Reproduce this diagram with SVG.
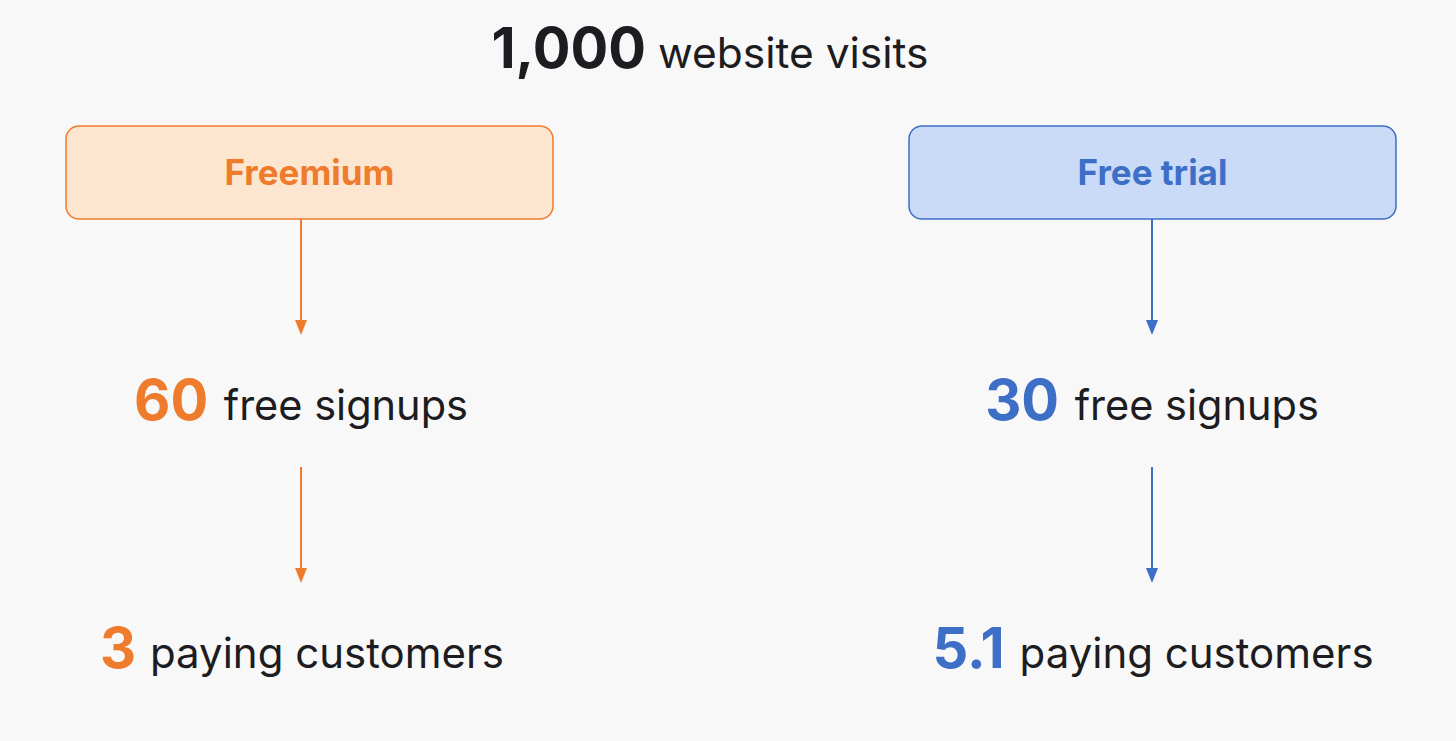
<svg xmlns="http://www.w3.org/2000/svg" width="1456" height="741" viewBox="0 0 1456 741">
<defs>
<style>
.t{font-family:Inter,"Noto Sans",sans-serif;fill:#1c1c21;text-anchor:middle}
.num{font-weight:700}
.o{fill:#ef7b2d}
.b{fill:#3e6fc6}
.lbl{font-family:Inter,"Noto Sans",sans-serif;font-weight:700;font-size:35px;text-anchor:middle}
.co{stroke:#ef7b2d;stroke-width:2;fill:none}
.cb{stroke:#3e6fc6;stroke-width:2;fill:none}
</style>
</defs>
<rect width="1456" height="741" fill="#f8f8f8"/>
<g id="title"><text class="t" x="710" y="68" font-size="42.5"><tspan class="num" font-size="56">1,000</tspan> website visits</text></g>
<g id="freemium"><rect x="66" y="126" width="487" height="93" rx="13" fill="#fde6cf" stroke="#ef7b2d" stroke-width="1.5"/><text class="lbl o" x="309.5" y="185">Freemium</text></g>
<g id="freetrial"><rect x="909" y="126" width="487" height="93" rx="13" fill="#c9dbf6" stroke="#3e6fc6" stroke-width="1.5"/><text class="lbl b" x="1152.5" y="185">Free trial</text></g>
<g id="signups-left"><text class="t" x="301" y="420" font-size="41.5"><tspan class="num o" font-size="56">60</tspan><tspan dx="4"> free signups</tspan></text></g>
<g id="signups-right"><text class="t" x="1152" y="420" font-size="41.5"><tspan class="num b" font-size="56">30</tspan><tspan dx="4"> free signups</tspan></text></g>
<g id="paying-left"><text class="t" x="302" y="668" font-size="42"><tspan class="num o" font-size="56">3</tspan><tspan dx="2"> paying customers</tspan></text></g>
<g id="paying-right"><text class="t" x="1153" y="668" font-size="42"><tspan class="num b" font-size="56">5.1</tspan><tspan dx="3"> paying customers</tspan></text></g>
<g id="connectors">
<path class="co" d="M301,219 V322"/><path d="M295,320 L307,320 L301,335 Z" fill="#ef7b2d"/>
<path class="co" d="M301,467 V570"/><path d="M295,568 L307,568 L301,583 Z" fill="#ef7b2d"/>
<path class="cb" d="M1152,219 V322"/><path d="M1146,320 L1158,320 L1152,335 Z" fill="#3e6fc6"/>
<path class="cb" d="M1152,467 V570"/><path d="M1146,568 L1158,568 L1152,583 Z" fill="#3e6fc6"/>
</g>
</svg>
